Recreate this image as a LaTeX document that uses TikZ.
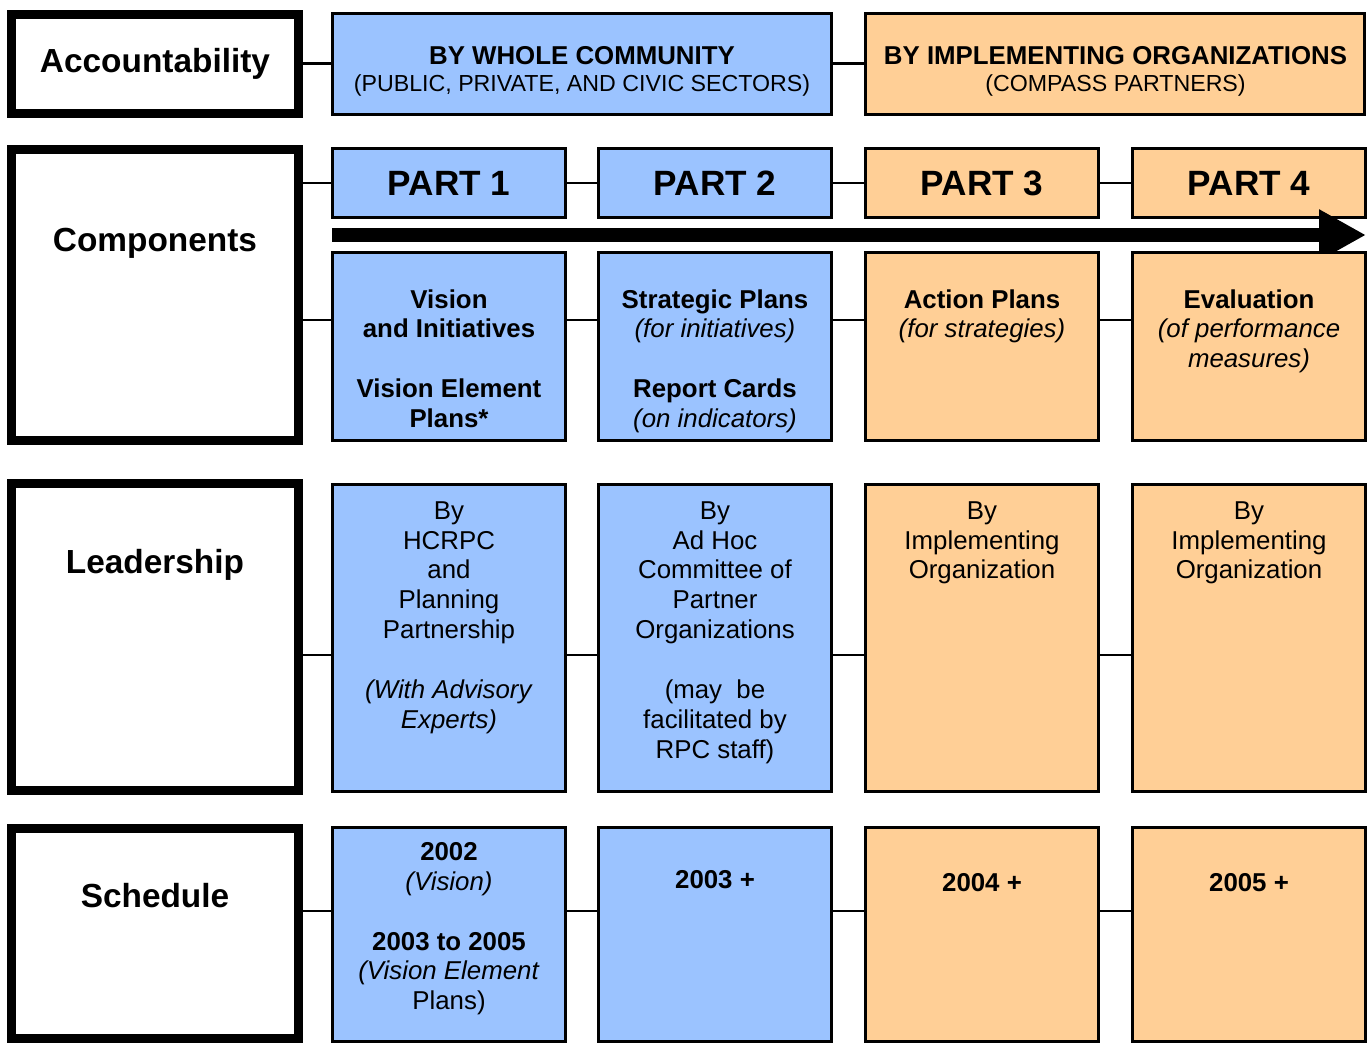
\documentclass[tikz,border=0pt]{standalone}
\usepackage{fontspec}
\setmainfont{Liberation Sans}
\usetikzlibrary{arrows.meta}

\definecolor{wholeblue}{RGB}{155,195,255}
\definecolor{implorange}{RGB}{255,207,150}

\begin{document}
\begin{tikzpicture}[x=0.2mm, y=-0.2mm,
  rowbox/.style={draw, line width=1.8mm, fill=white, inner sep=0, outer sep=0, anchor=north west, minimum width=57.4mm},
  partbox/.style={draw, line width=0.6mm, inner sep=0, outer sep=0, anchor=north west, minimum width=46.6mm},
  link/.style={line width=0.5mm},
  txt/.style={font=\fontsize{14.7}{17}\selectfont, align=center, inner sep=0, anchor=north},
  heading/.style={font=\fontsize{19}{22}\selectfont\bfseries, inner sep=0},
  partname/.style={font=\fontsize{20}{24}\selectfont\bfseries}]
\useasboundingbox (0, 0) rectangle (1367, 1043);

% row labels
\node[rowbox, minimum height=19.8mm] (acc) at (11.5, 14) {};
\node[rowbox, minimum height=58.3mm] (comp) at (11.5, 149) {};
\node[rowbox, minimum height=61.3mm] (lead) at (11.5, 483.5) {};
\node[rowbox, minimum height=42.1mm] (sched) at (11.5, 828) {};
\node[heading] (acclabel) at (155, 64) {Accountability};
\node[heading] (complabel) at (155, 243) {Components};
\node[heading] (leadlabel) at (155, 565) {Leadership};
\node[heading] (schedlabel) at (155, 896) {Schedule};

% accountability
\node[partbox, fill=wholeblue, minimum width=99.8mm, minimum height=20.2mm] (whole) at (332.5, 13) {};
\node[partbox, fill=implorange, minimum width=99.8mm, minimum height=20.2mm] (impl) at (865.5, 13) {};
\node[txt, font=\fontsize{14.7}{15.6}\selectfont] (wholetxt) at (582, 46)
  {\textbf{BY WHOLE COMMUNITY}\\{\fontsize{13.2}{15.6}\selectfont(PUBLIC, PRIVATE, AND CIVIC SECTORS)}};
\node[txt, font=\fontsize{14.7}{15.6}\selectfont] (impltxt) at (1115.5, 46)
  {\textbf{BY IMPLEMENTING ORGANIZATIONS}\\{\fontsize{13.2}{15.6}\selectfont(COMPASS PARTNERS)}};

% parts
\node[partbox, partname, fill=wholeblue, minimum height=13.8mm] (part1) at (332.5, 148.5) {PART 1};
\node[partbox, partname, fill=wholeblue, minimum height=13.8mm] (part2) at (598.5, 148.5) {PART 2};
\node[partbox, partname, fill=implorange, minimum height=13.8mm] (part3) at (865.5, 148.5) {PART 3};
\node[partbox, partname, fill=implorange, minimum height=13.8mm] (part4) at (1132.5, 148.5) {PART 4};

\coordinate (flowstart) at (332, 235);
\coordinate (flowend) at (1366, 235);
\draw[line width=2.9mm, -{Triangle[length=9.4mm, width=9.6mm]}] (flowstart) -- (flowend);

% components
\node[partbox, fill=wholeblue, minimum height=37.6mm] (vis1) at (332.5, 252) {};
\node[partbox, fill=wholeblue, minimum height=37.6mm] (vis2) at (598.5, 252) {};
\node[partbox, fill=implorange, minimum height=37.6mm] (vis3) at (865.5, 252) {};
\node[partbox, fill=implorange, minimum height=37.6mm] (vis4) at (1132.5, 252) {};
\node[txt] (vis1txt) at (449, 289) {\textbf{Vision}\\\textbf{and Initiatives}\\[17pt]\textbf{Vision Element}\\\textbf{Plans*}};
\node[txt] (vis2txt) at (715, 289) {\textbf{Strategic Plans}\\\textit{(for initiatives)}\\[17pt]\textbf{Report Cards}\\\textit{(on indicators)}};
\node[txt] (vis3txt) at (982, 289) {\textbf{Action Plans}\\\textit{(for strategies)}};
\node[txt] (vis4txt) at (1249, 289) {\textbf{Evaluation}\\\textit{(of performance}\\\textit{measures)}};

% leadership
\node[partbox, fill=wholeblue, minimum height=61.4mm] (lead1) at (332.5, 484) {};
\node[partbox, fill=wholeblue, minimum height=61.4mm] (lead2) at (598.5, 484) {};
\node[partbox, fill=implorange, minimum height=61.4mm] (lead3) at (865.5, 484) {};
\node[partbox, fill=implorange, minimum height=61.4mm] (lead4) at (1132.5, 484) {};
\node[txt] (lead1txt) at (449, 501) {By\\HCRPC\\and\\Planning\\Partnership\\[17pt]\textit{(With Advisory}\\\textit{Experts)}};
\node[txt] (lead2txt) at (715, 501) {By\\Ad Hoc\\Committee of\\Partner\\Organizations\\[17pt](may~ be\\facilitated by\\RPC staff)};
\node[txt] (lead3txt) at (982, 501) {By\\Implementing\\Organization};
\node[txt] (lead4txt) at (1249, 501) {By\\Implementing\\Organization};

% schedule
\node[partbox, fill=wholeblue, minimum height=42.8mm] (sched1) at (332.5, 827) {};
\node[partbox, fill=wholeblue, minimum height=42.8mm] (sched2) at (598.5, 827) {};
\node[partbox, fill=implorange, minimum height=42.8mm] (sched3) at (865.5, 827) {};
\node[partbox, fill=implorange, minimum height=42.8mm] (sched4) at (1132.5, 827) {};
\node[txt] (sched1txt) at (449, 842) {\textbf{2002}\\\textit{(Vision)}\\[17pt]\textbf{2003 to 2005}\\\textit{(Vision Element}\\Plans)};
\node[txt] (sched2txt) at (715, 870) {\textbf{2003 +}};
\node[txt] (sched3txt) at (982, 873) {\textbf{2004 +}};
\node[txt] (sched4txt) at (1249, 873) {\textbf{2005 +}};

% links
\coordinate (complink) at (0, 320);
\coordinate (leadlink) at (0, 655);
\coordinate (schedlink) at (0, 911);
\draw[link] (acc.east) -- (whole.west);
\draw[link] (whole.east) -- (impl.west);
\draw[link] (comp.east |- part1.west) -- (part1.west);
\draw[link] (part1.east) -- (part2.west);
\draw[link] (part2.east) -- (part3.west);
\draw[link] (part3.east) -- (part4.west);
\draw[link] (comp.east |- complink) -- (vis1.west |- complink);
\draw[link] (vis1.east |- complink) -- (vis2.west |- complink);
\draw[link] (vis2.east |- complink) -- (vis3.west |- complink);
\draw[link] (vis3.east |- complink) -- (vis4.west |- complink);
\draw[link] (lead.east |- leadlink) -- (lead1.west |- leadlink);
\draw[link] (lead1.east |- leadlink) -- (lead2.west |- leadlink);
\draw[link] (lead2.east |- leadlink) -- (lead3.west |- leadlink);
\draw[link] (lead3.east |- leadlink) -- (lead4.west |- leadlink);
\draw[link] (sched.east |- schedlink) -- (sched1.west |- schedlink);
\draw[link] (sched1.east |- schedlink) -- (sched2.west |- schedlink);
\draw[link] (sched2.east |- schedlink) -- (sched3.west |- schedlink);
\draw[link] (sched3.east |- schedlink) -- (sched4.west |- schedlink);

\end{tikzpicture}
\end{document}
